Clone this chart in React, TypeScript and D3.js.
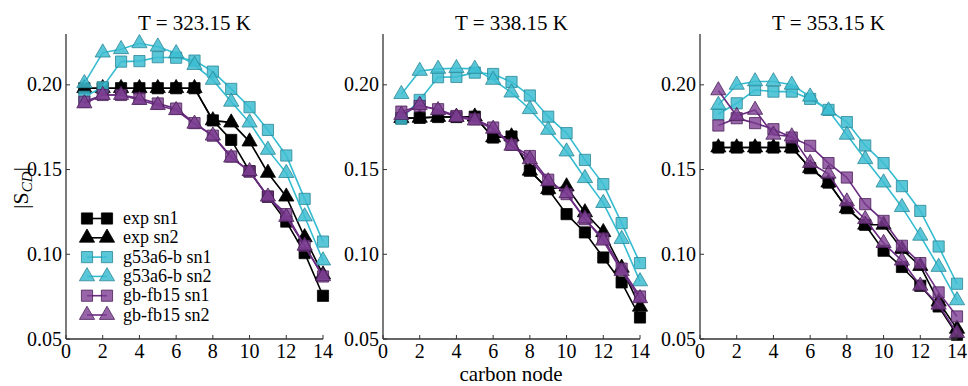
import * as d3 from "d3";

const nodes = [1, 2, 3, 4, 5, 6, 7, 8, 9, 10, 11, 12, 13, 14];
const temps = ["T = 323.15 K", "T = 338.15 K", "T = 353.15 K"];
const seriesNames = ["exp sn1", "exp sn2", "g53a6-b sn1", "g53a6-b sn2", "gb-fb15 sn1", "gb-fb15 sn2"];

// one array per series, one row per temperature
const expSn1 = [
  [0.198, 0.198, 0.198, 0.198, 0.198, 0.198, 0.198, 0.179, 0.1675, 0.149, 0.134, 0.1193, 0.1007, 0.0755],
  [0.1803, 0.1805, 0.181, 0.181, 0.1812, 0.1689, 0.1695, 0.1493, 0.1384, 0.1237, 0.1129, 0.0981, 0.0834, 0.0627],
  [0.163, 0.163, 0.163, 0.163, 0.163, 0.1508, 0.1423, 0.1272, 0.1174, 0.1021, 0.0925, 0.0814, 0.0692, 0.0525],
];
const expSn2 = [
  [0.198, 0.198, 0.198, 0.198, 0.198, 0.198, 0.198, 0.179, 0.1777, 0.1665, 0.148, 0.134, 0.110, 0.088],
  [0.1803, 0.1805, 0.181, 0.181, 0.1812, 0.1689, 0.1695, 0.1493, 0.1384, 0.140, 0.1247, 0.113, 0.092, 0.069],
  [0.163, 0.163, 0.163, 0.163, 0.163, 0.1508, 0.1423, 0.1272, 0.1174, 0.1174, 0.103, 0.093, 0.072, 0.056],
];
const g53Sn1 = [
  [0.193, 0.1986, 0.2137, 0.214, 0.2163, 0.216, 0.2143, 0.2078, 0.1976, 0.1868, 0.1734, 0.1583, 0.1327, 0.1075],
  [0.180, 0.1911, 0.2045, 0.2047, 0.2072, 0.2064, 0.2017, 0.1937, 0.1812, 0.1715, 0.1557, 0.1414, 0.1184, 0.0948],
  [0.1828, 0.1891, 0.197, 0.196, 0.196, 0.1917, 0.1852, 0.178, 0.1642, 0.1538, 0.1402, 0.1256, 0.1046, 0.0826],
];
const g53Sn2 = [
  [0.2009, 0.219, 0.221, 0.2245, 0.2225, 0.2186, 0.2117, 0.2029, 0.190, 0.1777, 0.1616, 0.1479, 0.1223, 0.0963],
  [0.1945, 0.2082, 0.2094, 0.2098, 0.2094, 0.2029, 0.1954, 0.1856, 0.1734, 0.1606, 0.1449, 0.1302, 0.109, 0.084],
  [0.1881, 0.200, 0.202, 0.202, 0.200, 0.193, 0.1848, 0.1705, 0.1561, 0.1423, 0.1278, 0.1109, 0.0925, 0.0728],
];
const gbSn1 = [
  [0.190, 0.194, 0.194, 0.192, 0.189, 0.186, 0.1774, 0.170, 0.1577, 0.1488, 0.134, 0.1237, 0.105, 0.0869],
  [0.1842, 0.1875, 0.1856, 0.1816, 0.1797, 0.1748, 0.1646, 0.158, 0.144, 0.1355, 0.1207, 0.1093, 0.0915, 0.0751],
  [0.176, 0.1803, 0.1774, 0.1738, 0.1689, 0.164, 0.1538, 0.1453, 0.1296, 0.1197, 0.105, 0.0948, 0.0775, 0.0633],
];
const gbSn2 = [
  [0.189, 0.194, 0.194, 0.191, 0.188, 0.185, 0.177, 0.170, 0.157, 0.149, 0.134, 0.122, 0.105, 0.087],
  [0.1822, 0.1881, 0.185, 0.181, 0.1789, 0.174, 0.164, 0.156, 0.143, 0.136, 0.121, 0.108, 0.090, 0.074],
  [0.1967, 0.1816, 0.1852, 0.1705, 0.1695, 0.1538, 0.1475, 0.1311, 0.1207, 0.1066, 0.0962, 0.0814, 0.0702, 0.0535],
];

const xTicks = [0, 2, 4, 6, 8, 10, 12, 14];
const yTicks = [0.05, 0.1, 0.15, 0.2];

const styles = [
  { shape: "s", line: "#000000", fill: "#000000", edge: "#000000", op: 1 },
  { shape: "t", line: "#000000", fill: "#000000", edge: "#000000", op: 1 },
  { shape: "s", line: "#35bcd0", fill: "#3dbdd2", edge: "#2b8795", op: 0.85 },
  { shape: "t", line: "#35bcd0", fill: "#3dbdd2", edge: "#2b8795", op: 0.85 },
  { shape: "s", line: "#6a2c80", fill: "#7d3f92", edge: "#4a2058", op: 0.8 },
  { shape: "t", line: "#6a2c80", fill: "#7d3f92", edge: "#4a2058", op: 0.8 },
];
const allSeries = [expSn1, expSn2, g53Sn1, g53Sn2, gbSn1, gbSn2];

const W = 968;
const H = 386;
const FONT = "'Liberation Serif', 'DejaVu Serif', serif";
const panelLefts = [66, 383, 700];
const panelW = 257;
const top = 34;
const bottom = 339;

const sq = d3.symbol().type(d3.symbolSquare).size(125)();
const tri = d3.symbol().type(d3.symbolTriangle).size(100)();

function Marker({ x, y, st }: any) {
  return (
    <path
      d={st.shape === "s" ? sq! : tri!}
      transform={`translate(${x},${y})`}
      fill={st.fill}
      fillOpacity={st.op}
      stroke={st.edge}
      strokeWidth={0.8}
    />
  );
}

function Panel({ idx }: { idx: number }) {
  const left = panelLefts[idx];
  const x = d3.scaleLinear().domain([0, 14]).range([left, left + panelW]);
  const y = d3.scaleLinear().domain([0.05, 0.23]).range([bottom, top]);
  const line = d3
    .line<number>()
    .x((_, i) => x(nodes[i]))
    .y((d) => y(d));
  return (
    <g>
      <text x={(x(0) + x(14)) / 2} y={30} textAnchor="middle" fontSize={21} fontFamily={FONT}>
        {temps[idx]}
      </text>
      {allSeries.map((s, si) => (
        <g key={si}>
          <path d={line(s[idx]) || ""} fill="none" stroke={styles[si].line} strokeWidth={1.6} />
          {s[idx].map((v, i) => (
            <Marker key={i} x={x(nodes[i])} y={y(v)} st={styles[si]} />
          ))}
        </g>
      ))}
      <line x1={x(0)} x2={x(0)} y1={top} y2={bottom} stroke="#333" strokeWidth={1.3} />
      <line x1={x(0)} x2={x(14)} y1={bottom} y2={bottom} stroke="#333" strokeWidth={1.3} />
      {xTicks.map((t) => (
        <g key={t}>
          <line x1={x(t)} x2={x(t)} y1={bottom} y2={bottom - 4} stroke="#333" strokeWidth={1} />
          <text x={x(t)} y={358} textAnchor="middle" fontSize={20} fontFamily={FONT}>
            {t}
          </text>
        </g>
      ))}
      {yTicks.map((t) => (
        <g key={t}>
          <line x1={x(0)} x2={x(0) + 4} y1={y(t)} y2={y(t)} stroke="#333" strokeWidth={1} />
          <text x={x(0) - 4} y={y(t) + 6.5} textAnchor="end" fontSize={20} fontFamily={FONT}>
            {t.toFixed(2)}
          </text>
        </g>
      ))}
    </g>
  );
}

function Legend() {
  const rowY = d3.scaleLinear().domain([0, 5]).range([218.5, 315]);
  return (
    <g>
      {seriesNames.map((n, i) => (
        <g key={n}>
          <line x1={87} x2={107} y1={rowY(i)} y2={rowY(i)} stroke={styles[i].line} strokeWidth={1.6} />
          <Marker x={87} y={rowY(i)} st={styles[i]} />
          <Marker x={107} y={rowY(i)} st={styles[i]} />
          <text x={123} y={rowY(i) + 5.5} fontSize={18} fontFamily={FONT}>
            {n}
          </text>
        </g>
      ))}
    </g>
  );
}

export default function App() {
  return (
    <svg
      width={W}
      height={H}
      style={{ position: "absolute", left: 0, top: 0, background: "#fff" }}
    >
      {[0, 1, 2].map((i) => (
        <Panel key={i} idx={i} />
      ))}
      <Legend />
      <text
        transform="translate(28,188) rotate(-90)"
        textAnchor="middle"
        fontSize={22}
        fontFamily={FONT}
      >
        |S<tspan fontStyle="italic" fontSize={15} dy={4}>CD</tspan>
        <tspan dy={-4}>|</tspan>
      </text>
      <text x={511} y={381} textAnchor="middle" fontSize={21} fontFamily={FONT}>
        carbon node
      </text>
    </svg>
  );
}
